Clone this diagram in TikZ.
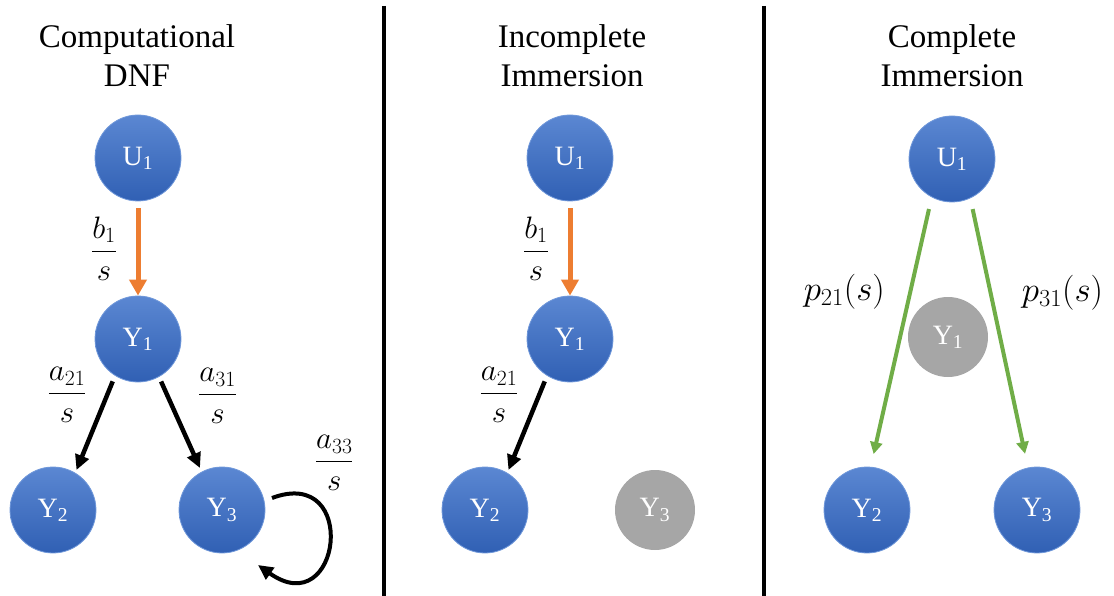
\RequirePackage{fix-cm}
\documentclass[tikz,border=0pt]{standalone}
\usepackage{amsmath}
\usepackage{fontspec}
\setmainfont{Liberation Serif}
\usepackage{xcolor}
\definecolor{nodetop}{HTML}{5B87D2}
\definecolor{nodebot}{HTML}{3060B4}
\definecolor{nodeline}{HTML}{7098DA}
\definecolor{greyed}{HTML}{A6A6A6}
\definecolor{orange1}{HTML}{ED7D31}
\definecolor{green1}{HTML}{70AD47}
\usetikzlibrary{arrows.meta,calc}
\newcommand{\ttlsize}{\fontsize{33}{39}\selectfont}
\newcommand{\nodesize}{\fontsize{28}{32}\selectfont}
\newcommand{\lblsize}{\fontsize{31}{36}\selectfont}
\newcommand{\plblsize}{\fontsize{35}{40}\selectfont}
\tikzset{
  ttl/.style     = {align=center, inner sep=0pt, anchor=north, font=\ttlsize},
  blob/.style    = {circle, minimum size=86pt, inner sep=0pt,
                    top color=nodetop, bottom color=nodebot, draw=nodeline,
                    line width=0.8pt, text=white, font=\nodesize},
  ghost/.style   = {circle, minimum size=80pt, inner sep=0pt,
                    fill=greyed, text=white, font=\nodesize},
  frac/.style    = {inner sep=0pt, font=\lblsize},
  plbl/.style    = {inner sep=0pt, font=\plblsize},
  oarr/.style    = {-{Triangle[length=16pt,width=17pt]}, line width=5pt, draw=orange1},
  barr/.style    = {-{Triangle[length=15pt,width=14pt]}, line width=4.5pt, draw=black},
  garr/.style    = {-{Triangle[length=12pt,width=12pt]}, line width=4pt, draw=green1},
  divider/.style = {line width=4pt, draw=black}
}
\begin{document}
\begin{tikzpicture}[x=1pt, y=1pt]
  \useasboundingbox (0,0) rectangle (1114,-596);
  \foreach \x in {384,764}
    \draw[divider] (\x,-6) -- (\x,-596);

  \node[ttl] (t1) at (137,-24) {Computational\\DNF};
  \node[ttl] (t2) at (572,-24) {Incomplete\\Immersion};
  \node[ttl] (t3) at (952,-24) {Complete\\Immersion};

  % computational DNF
  \node[blob] (u1) at (138,-158) {U\textsubscript{1}};
  \node[blob] (y1) at (138,-339) {Y\textsubscript{1}};
  \node[blob] (y2) at (53,-510)  {Y\textsubscript{2}};
  \node[blob] (y3) at (222,-510) {Y\textsubscript{3}};
  \draw[oarr, shorten <=7pt] (u1) -- node[frac, xshift=-34pt] {$\dfrac{b_1}{s}$} (y1);
  \draw[barr, shorten <=6pt, shorten >=3pt] (y1.238) -- node[frac, pos=0.2, xshift=-40pt] {$\dfrac{a_{21}}{s}$} (y2.59);
  \draw[barr, shorten <=5pt, shorten >=4pt] (y1.299) -- node[frac, pos=0.2, xshift=50pt] {$\dfrac{a_{31}}{s}$} (y3.118);
  \draw[barr, line width=4pt] ($(y3)+(50,12)$) .. controls +(88,33) and +(83,-59) .. ($(y3)+(36,-55)$)
    node[frac, pos=0.2, xshift=22pt, yshift=35pt] {$\dfrac{a_{33}}{s}$};

  % incomplete immersion
  \node[blob]  (iu1) at (570,-158) {U\textsubscript{1}};
  \node[blob]  (iy1) at (570,-339) {Y\textsubscript{1}};
  \node[blob]  (iy2) at (485,-510) {Y\textsubscript{2}};
  \node[ghost] (iy3) at (655,-510) {Y\textsubscript{3}};
  \draw[oarr, shorten <=7pt] (iu1) -- node[frac, xshift=-34pt] {$\dfrac{b_1}{s}$} (iy1);
  \draw[barr, shorten <=6pt, shorten >=3pt] (iy1.238) -- node[frac, pos=0.2, xshift=-40pt] {$\dfrac{a_{21}}{s}$} (iy2.59);

  % complete immersion
  \node[blob]  (cu1) at (952,-159)  {U\textsubscript{1}};
  \node[ghost] (cy1) at (948,-337)  {Y\textsubscript{1}};
  \node[blob]  (cy2) at (867,-510)  {Y\textsubscript{2}};
  \node[blob]  (cy3) at (1037,-510) {Y\textsubscript{3}};
  \draw[garr, shorten <=12pt, shorten >=13pt] (cu1.242) -- node[plbl, pos=0.35, xshift=-66pt] {$p_{21}(s)$} (cy2.85);
  \draw[garr, shorten <=11pt, shorten >=14pt] (cu1.295) -- node[plbl, pos=0.35, xshift=72pt] {$p_{31}(s)$} (cy3.102);
\end{tikzpicture}
\end{document}
